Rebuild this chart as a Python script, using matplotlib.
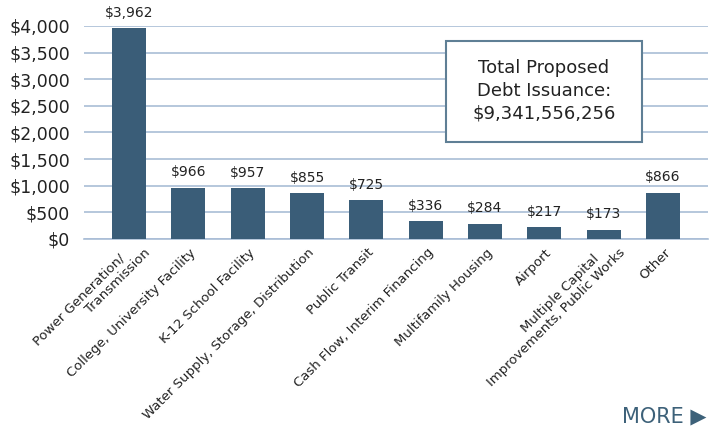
import matplotlib.pyplot as plt
from matplotlib.patches import Rectangle
import numpy as np

categories = ['Power Generation/\nTransmission', 'College, University Facility',
              'K-12 School Facility', 'Water Supply, Storage, Distribution',
              'Public Transit', 'Cash Flow, Interim Financing', 'Multifamily Housing',
              'Airport', 'Multiple Capital\nImprovements, Public Works', 'Other']
values = [3962, 966, 957, 855, 725, 336, 284, 217, 173, 866]
yticks = [0, 500, 1000, 1500, 2000, 2500, 3000, 3500, 4000]

bar_color = '#3A5D78'
grid_color = '#A9BDD6'
text_color = '#222222'

plt.rcParams['font.family'] = ['DejaVu Sans']

fig = plt.figure(figsize=(7.14, 4.3), dpi=100)
ax = fig.add_axes([84 / 714, 191 / 430, 624 / 714, 213 / 430])

x = np.arange(len(values))
ax.bar(x, values, width=0.57, color=bar_color, zorder=3)
for xi, v in zip(x, values):
    ax.text(xi, v + 160, '${:,}'.format(v), ha='center', va='bottom',
            fontsize=10, color=text_color, clip_on=False)

ax.set_xlim(-0.76, len(values) - 1 + 0.76)
ax.set_ylim(0, 4000)
ax.set_yticks(yticks)
ax.set_yticklabels(['${:,}'.format(t) for t in yticks], fontsize=12.5, color=text_color)
ax.yaxis.grid(True, color=grid_color, linewidth=1.2, zorder=0)
ax.set_axisbelow(True)
ax.tick_params(axis='y', length=0, pad=10)
ax.set_xticks(x)
ax.set_xticklabels([])
ax.tick_params(axis='x', length=0)

# rotated category labels, one text per line (excel-like stacking)
px = 0.72  # points per pixel at 100 dpi
for xi, cat in zip(x, categories):
    lines = cat.split('\n')
    n = len(lines)
    for i, line in enumerate(lines):
        back = n - 1 - i
        dx = 1 + (14 if n > 1 else 0) - 26 * back
        dy = -(7 + 6 * back)
        ax.annotate(line, xy=(xi, 0), xycoords=('data', 'axes fraction'),
                    xytext=(dx * px, dy * px), textcoords='offset points',
                    rotation=45, rotation_mode='anchor', ha='right', va='top',
                    fontsize=9.5, color=text_color, annotation_clip=False)

for s in ['top', 'right', 'left']:
    ax.spines[s].set_visible(False)
ax.spines['bottom'].set_color(grid_color)
ax.spines['bottom'].set_linewidth(1.2)

# text box with the total
fig.patches.append(Rectangle((446 / 714, 1 - 142 / 430), 196 / 714, 101 / 430,
                             transform=fig.transFigure, facecolor='white',
                             edgecolor='#5F7F95', linewidth=1.5, zorder=5))
fig.text(544 / 714, 1 - 91 / 430, 'Total Proposed\nDebt Issuance:\n$9,341,556,256',
         ha='center', va='center', fontsize=13, color=text_color, linespacing=1.35,
         zorder=6)

fig.text(706 / 714, 1 - 416 / 430, 'MORE \u25B6', ha='right', va='center',
         fontsize=15, color='#3D6179')

fig.savefig('out.png', dpi=100)
